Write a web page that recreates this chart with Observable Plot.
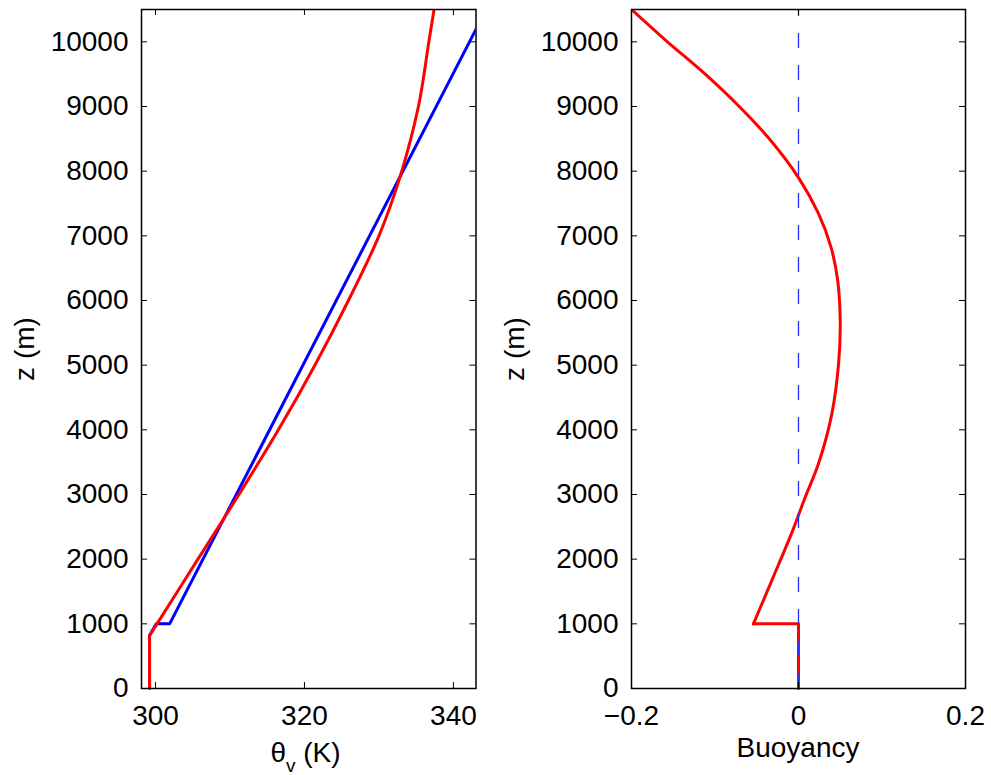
<!DOCTYPE html>
<html>
<head>
<meta charset="utf-8">
<script src="https://cdn.jsdelivr.net/npm/d3@7"></script>
<script src="https://cdn.jsdelivr.net/npm/@observablehq/plot@0.6"></script>
<style>
  body { margin: 0; background: #fff; }
  #chart { position: relative; width: 991px; height: 775px; font-family: "Liberation Sans", Arial, sans-serif; }
  #chart svg { position: absolute; top: 0; }
</style>
</head>
<body>
<div id="chart"></div>
<script>
// Tick values shared by the panels
const zTicks = [0, 1000, 2000, 3000, 4000, 5000, 6000, 7000, 8000, 9000, 10000];
const zTickLabels = ["0", "1000", "2000", "3000", "4000", "5000", "6000", "7000", "8000", "9000", "10000"];
const thetaTicks = [300, 320, 340];
const thetaTickLabels = ["300", "320", "340"];
const buoyTicks = [-0.2, 0, 0.2];
const buoyTickLabels = ["\u22120.2", "0", "0.2"];

// Environment virtual potential temperature (K) against height (m)
const envZ = [0, 820, 1000, 1000, 10500];
const envTheta = [299.2, 299.2, 300.1, 301.9, 344.4];

// Lifted parcel virtual potential temperature (K)
const parcelZ = [0, 820, 1000, 2000, 3000, 4000, 5000, 6000, 7000, 7900, 9000, 10000, 10500];
const parcelTheta = [299.2, 299.2, 300.2, 305.7, 311.2, 316.5, 321.4, 325.9, 330.0, 332.8, 335.3, 336.7, 337.4];

// Parcel buoyancy
const buoyZ = [0, 1000, 1000, 1700, 2442, 2957, 3478, 4250, 5023, 5641, 6306, 6821, 7342, 7900, 8500, 9000, 9526, 10000, 10500];
const buoyB = [0, 0, -0.054, -0.031, -0.007, 0.008, 0.024, 0.040, 0.048, 0.050, 0.047, 0.039, 0.024, 0.000, -0.035, -0.071, -0.114, -0.157, -0.200];

const zeroLine = [{b: 0, h1: 0, h2: 10500}];

const env = envZ.map((h, i) => ({h, t: envTheta[i]}));
const parcelLow = parcelZ.slice(0, 3).map((h, i) => ({h, t: parcelTheta[i]}));
const parcelHigh = parcelZ.slice(2).map((h, i) => ({h, t: parcelTheta[i + 2]}));
const buoyLow = buoyZ.slice(0, 3).map((h, i) => ({h, b: buoyB[i]}));
const buoyHigh = buoyZ.slice(2).map((h, i) => ({h, b: buoyB[i + 2]}));

const H = 775, MT = 9, MB = 87, TICK = 6;
const FONT = '"Liberation Sans", Arial, sans-serif';

function panel({width, marginLeft, marginRight, xDomain, xTicks, xLabels, lines}) {
  const W = width - marginLeft - marginRight;
  const PH = H - MT - MB;
  return Plot.plot({
    width, height: H, marginTop: MT, marginBottom: MB, marginLeft, marginRight,
    style: {fontFamily: FONT, fontSize: "28px", background: "transparent", color: "black", overflow: "visible"},
    x: {domain: xDomain, axis: null},
    y: {domain: [0, 10500], axis: null},
    marks: [
      ...lines,
      // inward ticks on all four sides
      Plot.ruleY(zTicks, {y: d => d, insetRight: W - TICK, stroke: "black", strokeWidth: 1}),
      Plot.ruleY(zTicks, {y: d => d, insetLeft: W - TICK, stroke: "black", strokeWidth: 1}),
      Plot.ruleX(xTicks, {x: d => d, insetTop: PH - TICK, stroke: "black", strokeWidth: 1}),
      Plot.ruleX(xTicks, {x: d => d, insetBottom: PH - TICK, stroke: "black", strokeWidth: 1}),
      Plot.frame({stroke: "black", strokeWidth: 1.5}),
      Plot.axisY(zTicks, {anchor: "left", tickSize: 0, tickPadding: 13, label: null,
        tickFormat: d => zTickLabels[zTicks.indexOf(d)]}),
      Plot.axisX(xTicks, {anchor: "bottom", tickSize: 0, tickPadding: 17, label: null,
        tickFormat: d => xLabels[xTicks.indexOf(d)]})
    ]
  });
}

const root = document.getElementById("chart");

// Left: virtual potential temperature profiles
const left = panel({
  width: 491, marginLeft: 141, marginRight: 15.5,
  xDomain: [298.12, 343.03], xTicks: thetaTicks, xLabels: thetaTickLabels,
  lines: [
    Plot.line(env, {x: "t", y: "h", stroke: "#0000ff", strokeWidth: 3, clip: true}),
    Plot.line(parcelLow, {x: "t", y: "h", stroke: "#ff0000", strokeWidth: 3}),
    Plot.line(parcelHigh, {x: "t", y: "h", stroke: "#ff0000", strokeWidth: 3, curve: "catmull-rom", clip: true})
  ]
});
left.style.left = "0px";
root.appendChild(left);

// Right: buoyancy profile with the zero line
const right = panel({
  width: 500, marginLeft: 140, marginRight: 26,
  xDomain: [-0.2, 0.2], xTicks: buoyTicks, xLabels: buoyTickLabels,
  lines: [
    Plot.line(buoyLow, {x: "b", y: "h", stroke: "#ff0000", strokeWidth: 3}),
    Plot.line(buoyHigh, {x: "b", y: "h", stroke: "#ff0000", strokeWidth: 3, curve: "catmull-rom", clip: true}),
    Plot.ruleX(zeroLine, {x: "b", y1: "h1", y2: "h2", stroke: "#2a2aff", strokeWidth: 1.3, strokeDasharray: "15,17"})
  ]
});
right.style.left = "491px";
root.appendChild(right);

// Axis titles
function yTitle(svg, marginLeft) {
  d3.select(svg).append("text")
    .attr("transform", `translate(${marginLeft - 107},349) rotate(-90)`)
    .attr("text-anchor", "middle")
    .attr("font-size", 28).attr("font-family", FONT).attr("fill", "black")
    .text("z (m)");
}
yTitle(left, 141);
yTitle(right, 140);

const th = d3.select(left).append("text")
  .attr("x", 305.5).attr("y", 762)
  .attr("text-anchor", "middle")
  .attr("font-size", 28).attr("font-family", FONT).attr("fill", "black");
th.append("tspan").text("\u03B8");
th.append("tspan").attr("dy", 10).attr("font-size", 19).text("v");
th.append("tspan").attr("dy", -10).text(" (K)");

d3.select(right).append("text")
  .attr("x", 307).attr("y", 757)
  .attr("text-anchor", "middle")
  .attr("font-size", 28).attr("font-family", FONT).attr("fill", "black")
  .text("Buoyancy");
</script>
</body>
</html>
